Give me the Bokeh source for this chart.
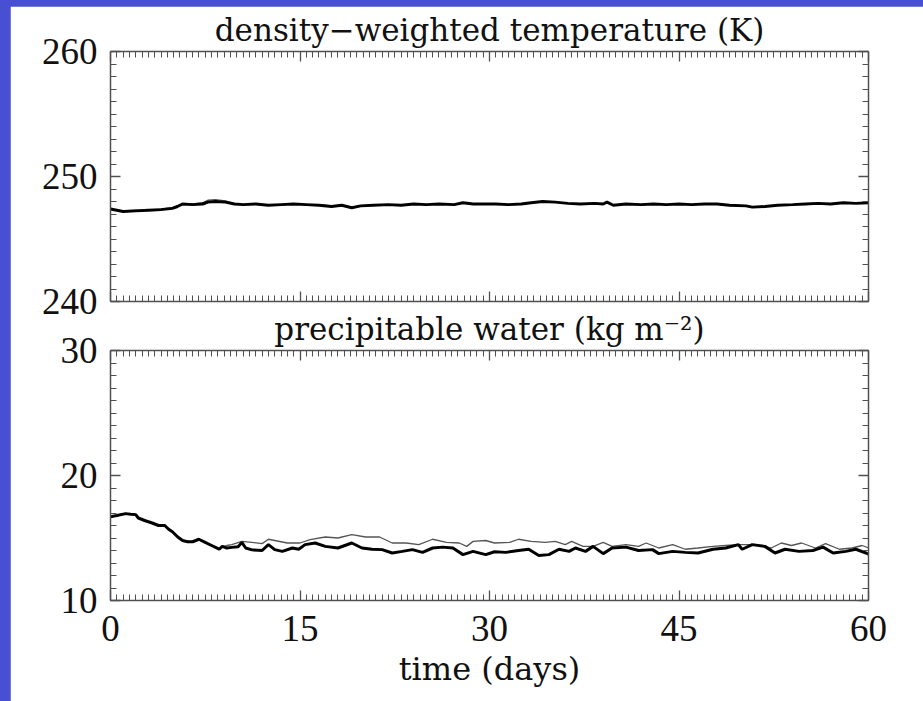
from bokeh.plotting import figure
from bokeh.models import Range1d, LinearAxis, SingleIntervalTicker, CustomJSTickFormatter
from bokeh.layouts import column
from bokeh.embed import file_html
from bokeh.resources import INLINE

# ---------------- data ----------------
# density-weighted temperature (K)
temp_thin_days = [0, 0.5, 1.0, 2.0, 3.0, 4.0, 4.9, 5.3, 5.7, 6.5, 7.3, 7.7, 8.3, 9.1, 9.8,
                  10.5, 11.5, 12.5, 13.5, 14.5, 15.5, 16.5, 17.5, 18.3, 19.1, 19.8, 20.8,
                  22, 23, 24, 25, 26, 27.2, 27.9, 28.7, 29.6, 30.5, 31.5, 32.5, 33.3, 34.2,
                  35.2, 36.2, 37.2, 38.3, 39.0, 39.3, 39.8, 40.8, 42, 43, 44, 45, 46, 47,
                  48, 49, 50.3, 50.8, 51.8, 52.8, 54, 55, 56, 57, 58, 59, 60]
temp_thin = [247.4, 247.3, 247.25, 247.3, 247.3, 247.4, 247.5, 247.65, 247.8, 247.8, 247.9,
             248.1, 248.15, 248.05, 247.85, 247.75, 247.8, 247.7, 247.75, 247.8, 247.75,
             247.75, 247.65, 247.7, 247.55, 247.65, 247.7, 247.75, 247.7, 247.8, 247.75,
             247.8, 247.75, 247.9, 247.8, 247.8, 247.8, 247.75, 247.8, 247.9, 248.0,
             247.95, 247.85, 247.8, 247.85, 247.8, 247.95, 247.7, 247.8, 247.75, 247.8,
             247.75, 247.8, 247.75, 247.8, 247.8, 247.7, 247.65, 247.55, 247.6, 247.7,
             247.75, 247.8, 247.85, 247.8, 247.9, 247.85, 247.9]
temp_thick_days = temp_thin_days
temp_thick = [247.4, 247.3, 247.2, 247.25, 247.3, 247.35, 247.45, 247.6, 247.8, 247.75, 247.8,
              247.95, 248.0, 247.95, 247.8, 247.75, 247.8, 247.7, 247.75, 247.8, 247.75,
              247.7, 247.6, 247.7, 247.5, 247.65, 247.7, 247.75, 247.7, 247.8, 247.75,
              247.8, 247.75, 247.9, 247.8, 247.8, 247.8, 247.75, 247.8, 247.9, 248.0,
              247.95, 247.85, 247.8, 247.85, 247.8, 247.95, 247.7, 247.8, 247.75, 247.8,
              247.75, 247.8, 247.75, 247.8, 247.8, 247.7, 247.65, 247.55, 247.6, 247.7,
              247.75, 247.8, 247.85, 247.8, 247.9, 247.85, 247.9]

# precipitable water (kg m-2)
pw_thick_days = [0.0, 0.5, 1.2, 1.6, 2.0, 2.2, 2.7, 3.3, 3.8, 4.3, 4.6, 4.9, 5.3, 5.7, 6.1,
                 6.5, 7.0, 7.5, 8.0, 8.6, 8.85, 9.2, 9.6, 10.1, 10.4, 10.7, 11.2, 12.0, 12.5,
                 13.0, 13.6, 14.4, 14.9, 15.4, 16.2, 17.0, 18.0, 19.1, 19.9, 20.7, 21.5,
                 22.3, 23.1, 23.9, 24.7, 25.5, 26.3, 27.1, 27.9, 28.7, 29.7, 30.4, 31.3,
                 32.3, 33.1, 33.9, 34.7, 35.5, 36.3, 36.8, 37.6, 38.2, 39.0, 39.7, 40.8,
                 41.8, 42.9, 43.4, 44.5, 45.5, 46.5, 47.7, 48.7, 49.7, 50.0, 50.8, 51.8,
                 52.6, 53.4, 54.5, 55.6, 56.4, 57.2, 58.2, 59.0, 59.8, 60.0]
pw_thick = [16.7, 16.8, 16.95, 16.9, 16.87, 16.6, 16.4, 16.2, 16.0, 16.0, 15.7, 15.5, 15.1,
            14.8, 14.7, 14.7, 14.9, 14.65, 14.4, 14.1, 14.33, 14.2, 14.25, 14.3, 14.65, 14.2,
            14.05, 14.0, 14.47, 14.07, 13.93, 14.2, 14.1, 14.47, 14.6, 14.33, 14.2, 14.6,
            14.2, 14.1, 14.07, 13.8, 13.93, 14.07, 13.85, 14.2, 14.27, 14.2, 13.67, 13.93,
            13.67, 13.9, 13.85, 14.0, 14.1, 13.6, 13.67, 14.1, 13.93, 14.2, 13.93, 14.33,
            13.75, 14.2, 14.27, 14.0, 14.07, 13.75, 13.93, 13.85, 13.8, 14.1, 14.2, 14.47,
            14.1, 14.47, 14.33, 13.8, 14.1, 13.93, 14.0, 14.27, 13.8, 13.93, 14.1, 13.8, 13.7]

pw_thin_days = [0.0, 0.5, 1.2, 1.6, 2.0, 2.2, 2.7, 3.3, 3.8, 4.3, 4.6, 4.9, 5.3, 5.7, 6.1,
                6.5, 7.0, 7.5, 8.0, 8.6, 9.2, 9.6, 10.4, 11.2, 12.0, 12.5, 13.0, 14.0, 15.0,
                15.8, 17.0, 18.0, 19.1, 20.2, 21.3, 22.3, 23.4, 24.4, 25.5, 26.6, 27.6, 28.2,
                28.7, 29.7, 30.4, 31.6, 32.3, 33.3, 34.4, 35.2, 36.0, 36.5, 37.4, 38.2, 39.0,
                39.7, 40.8, 41.8, 42.4, 43.4, 44.5, 45.5, 46.5, 47.7, 48.7, 49.7, 50.8, 52.3,
                53.1, 53.9, 54.7, 55.8, 56.6, 57.7, 58.7, 59.5, 60.0]
pw_thin = [16.7, 16.8, 16.95, 16.9, 16.87, 16.6, 16.45, 16.15, 16.05, 15.95, 15.75, 15.5,
           15.1, 14.8, 14.75, 14.7, 14.85, 14.6, 14.45, 14.2, 14.4, 14.47, 14.73, 14.65,
           14.55, 14.9, 14.8, 14.6, 14.6, 14.87, 15.08, 15.0, 15.27, 15.08, 15.08, 14.6,
           14.6, 14.47, 14.9, 14.65, 14.6, 14.33, 14.73, 14.8, 14.6, 14.65, 14.9, 14.73,
           14.65, 14.73, 14.47, 14.73, 14.33, 14.33, 14.65, 14.33, 14.47, 14.33, 14.6,
           14.2, 14.47, 14.1, 14.2, 14.33, 14.4, 14.47, 14.47, 14.2, 14.6, 14.4, 14.6,
           14.2, 14.55, 14.1, 14.2, 14.4, 14.2]

title_top = "density\u2212weighted temperature (K)"
title_bottom = "precipitable water (kg m\u207b\u00b2)"
x_label = "time (days)"

# ---------------- styling ----------------
BLUE = "#484fd3"
AXIS_COLOR = "#505050"
TICK_FONT = "Liberation Serif"
TEXT_FONT = "DejaVu Serif"


def style_axis(ax, ticker, show_labels):
    ax.ticker = ticker
    ax.axis_line_color = AXIS_COLOR
    ax.axis_line_width = 1.5
    ax.major_tick_line_color = AXIS_COLOR
    ax.minor_tick_line_color = AXIS_COLOR
    ax.major_tick_line_width = 1.3
    ax.minor_tick_line_width = 1.0
    ax.major_tick_in = 10
    ax.major_tick_out = 0
    ax.minor_tick_in = 6
    ax.minor_tick_out = 0
    if show_labels:
        ax.major_label_text_font = TICK_FONT
        ax.major_label_text_font_size = "37px"
        ax.major_label_text_color = "#111111"
    else:
        ax.formatter = CustomJSTickFormatter(code="return ''")
        ax.major_label_standoff = 0
        ax.major_label_text_font_size = "1px"


def make_panel(title, y0, y1, height, top, bottom, show_x):
    p = figure(width=913, height=height, output_backend="svg", toolbar_location=None,
               x_range=Range1d(0, 60), y_range=Range1d(y0, y1),
               x_axis_type=None, y_axis_type=None,
               min_border_left=100, min_border_right=55,
               min_border_top=top, min_border_bottom=bottom)
    p.title.text = title
    p.title.text_font = TEXT_FONT
    p.title.text_font_size = "31px"
    p.title.text_font_style = "normal"
    p.title.text_color = "#111111"
    p.title.align = "center"
    p.title.standoff = 7
    p.grid.visible = False
    p.outline_line_color = None
    p.background_fill_color = "white"
    p.border_fill_color = "white"

    xt = lambda: SingleIntervalTicker(interval=15, num_minor_ticks=30)
    yt = lambda: SingleIntervalTicker(interval=10, num_minor_ticks=10)

    bx = LinearAxis()
    style_axis(bx, xt(), show_x)
    if show_x:
        bx.major_label_standoff = 15
        bx.axis_label = x_label
        bx.axis_label_text_font = TEXT_FONT
        bx.axis_label_text_font_size = "32px"
        bx.axis_label_text_font_style = "normal"
        bx.axis_label_text_color = "#111111"
        bx.axis_label_standoff = 6
    p.add_layout(bx, "below")

    tx = LinearAxis()
    style_axis(tx, xt(), False)
    p.add_layout(tx, "above")

    ly = LinearAxis()
    style_axis(ly, yt(), True)
    ly.major_label_standoff = 13
    p.add_layout(ly, "left")

    ry = LinearAxis()
    style_axis(ry, yt(), False)
    p.add_layout(ry, "right")
    return p


# upper panel: its canvas runs to the bottom of the page and acts as the white backdrop
P1_HEIGHT = 695
p1 = make_panel(title_top, 240, 260, P1_HEIGHT, 45, P1_HEIGHT - 45 - 250, False)
p1.line(temp_thin_days, temp_thin, line_color="#555555", line_width=1.3)
p1.line(temp_thick_days, temp_thick, line_color="black", line_width=3)

# lower panel: transparent border, overlaid on the lower part of the upper canvas
P2_HEIGHT = 396
p2 = make_panel(title_bottom, 10, 30, P2_HEIGHT, 45, 101, True)
p2.border_fill_color = None
p2.line(pw_thin_days, pw_thin, line_color="#555555", line_width=1.3)
p2.line(pw_thick_days, pw_thick, line_color="black", line_width=3)

p1.margin = (6, 0, 0, 10)
p2.margin = (-(P1_HEIGHT - 299), 0, 0, 10)

layout = column(p1, p2, spacing=0, styles={"background-color": BLUE})

open("out.html", "w").write(file_html(layout, INLINE))
